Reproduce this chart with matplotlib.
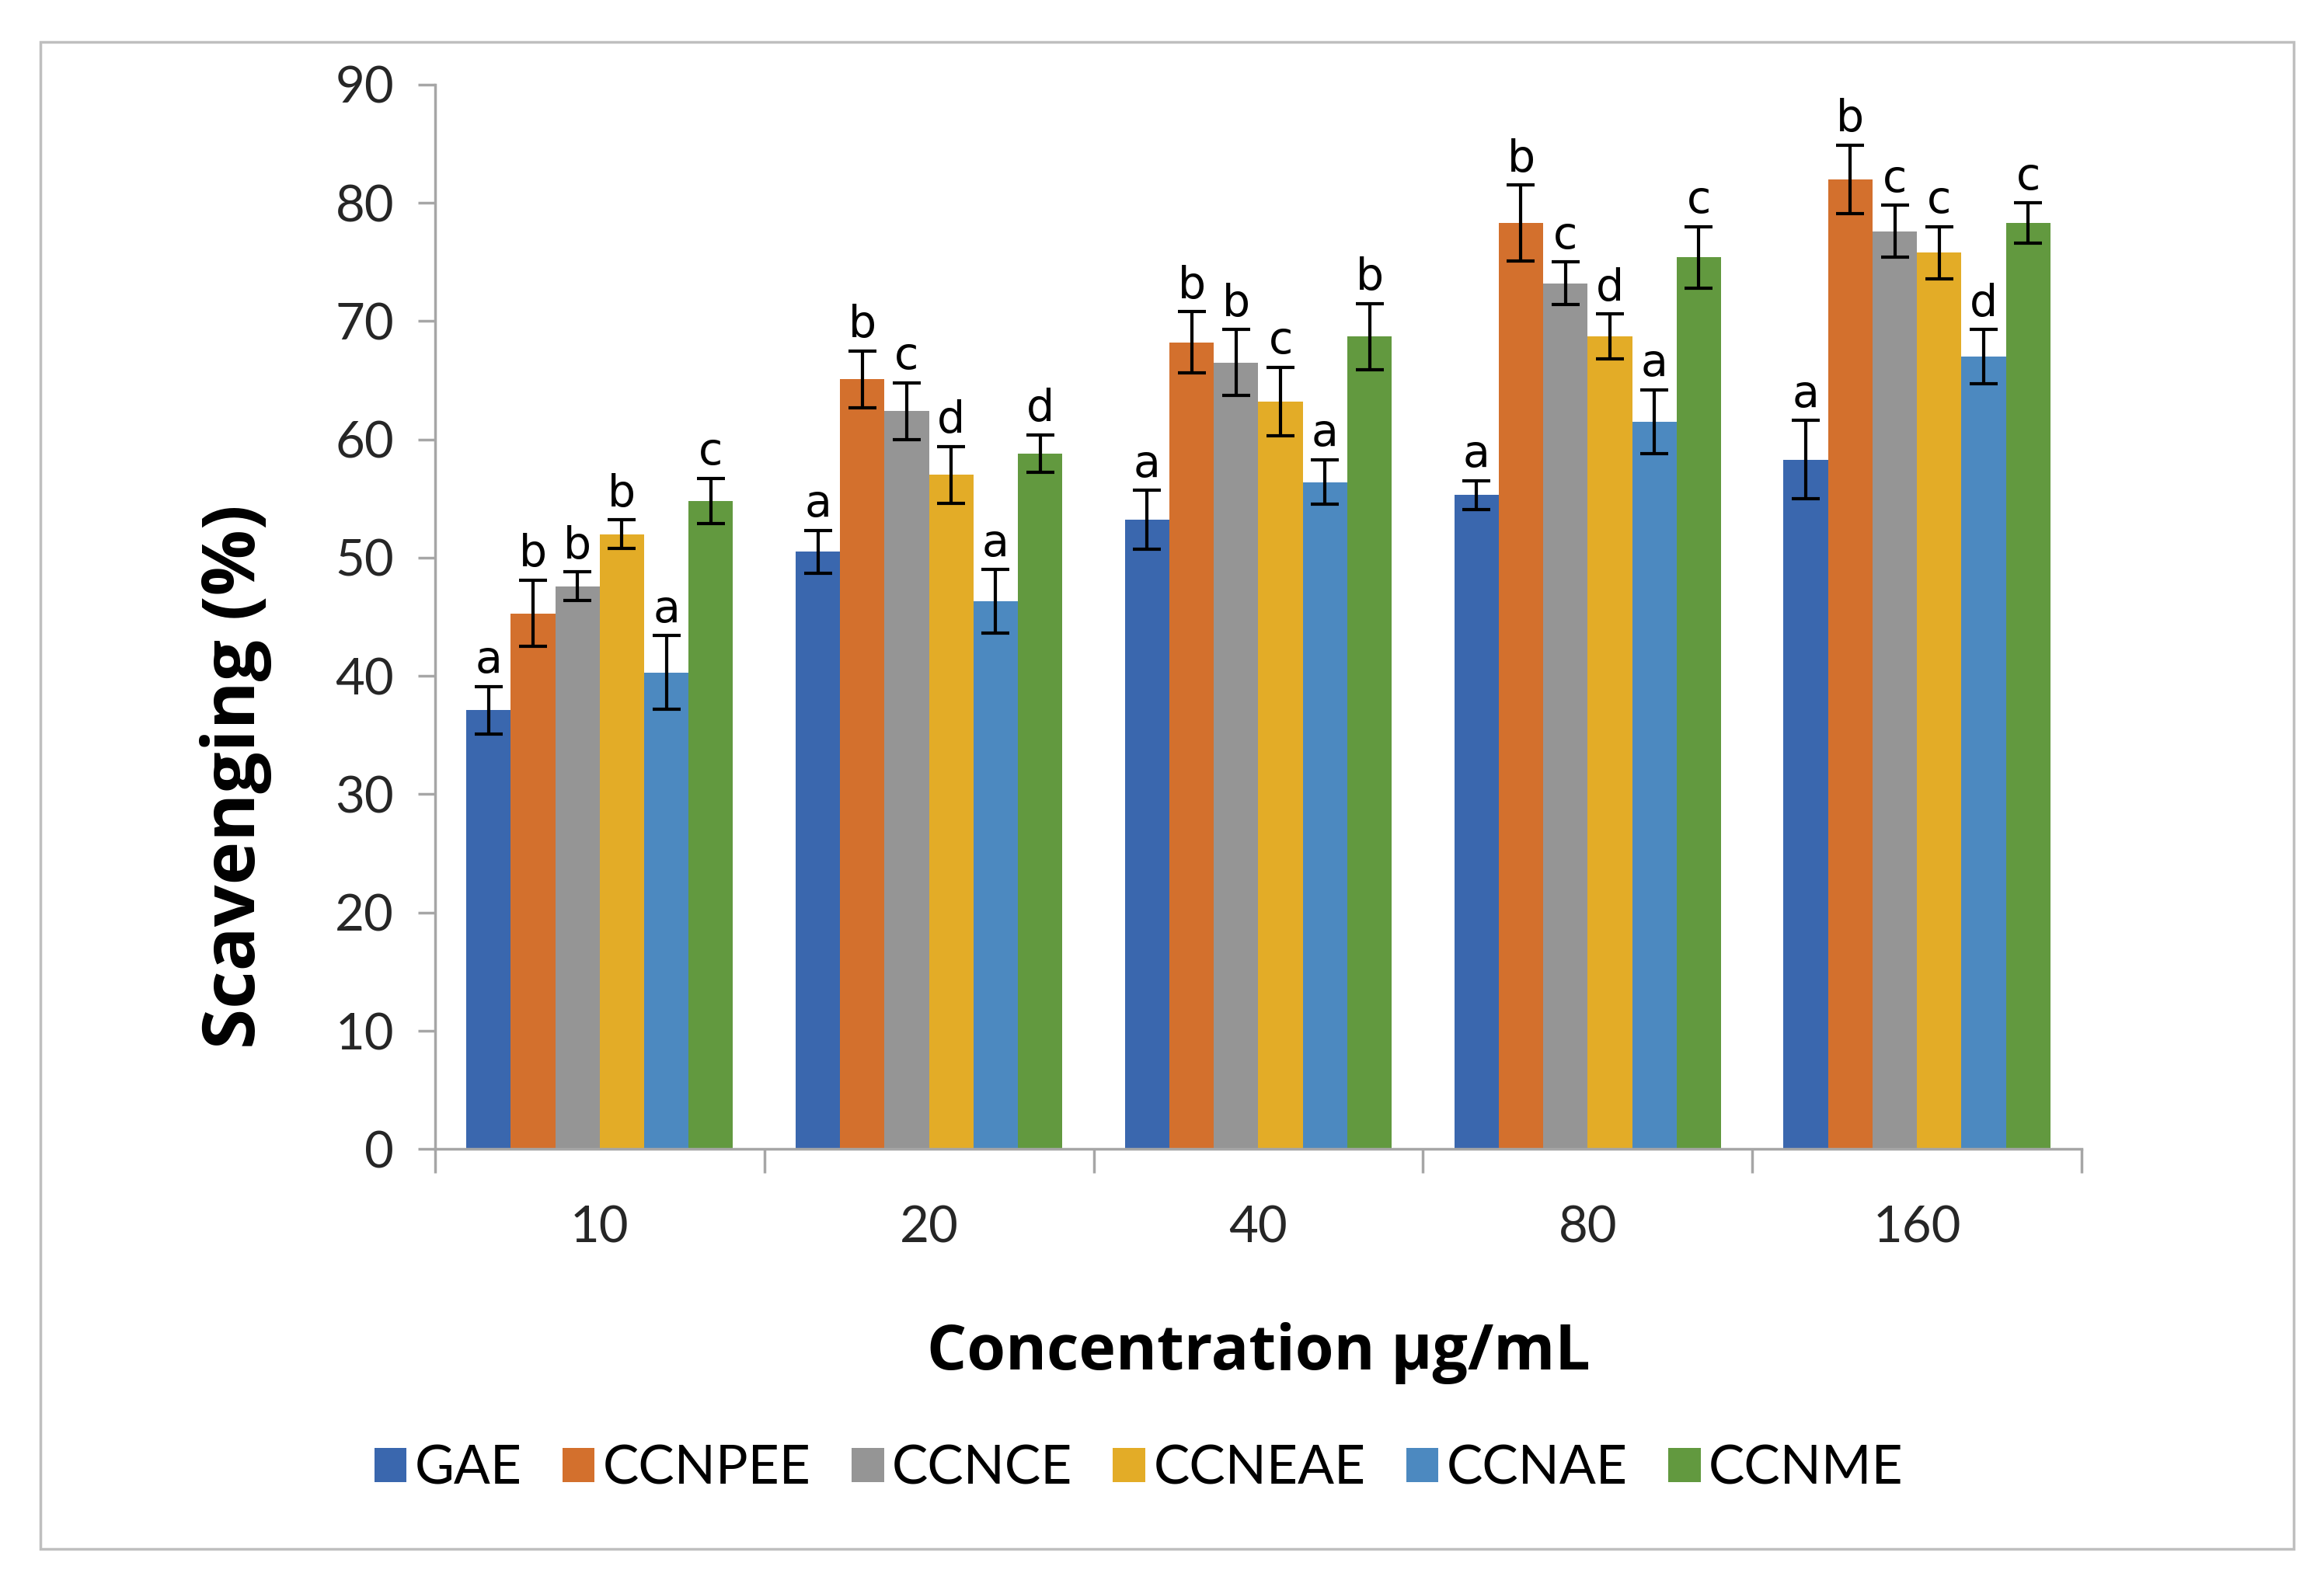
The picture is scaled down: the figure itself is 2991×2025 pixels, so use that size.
import numpy as np
import matplotlib
matplotlib.use("Agg")
import matplotlib.pyplot as plt
from matplotlib.patches import Rectangle

# concentrations (x categories)
concentrations = ["10", "20", "40", "80", "160"]
extracts = ["GAE", "CCNPEE", "CCNCE", "CCNEAE", "CCNAE", "CCNME"]
colors = ["#3A67AE", "#D3702D", "#959595", "#E3AC27", "#4C89C0", "#62993F"]

# mean scavenging (%) per extract, one value per concentration
gae = [37.1, 50.5, 53.2, 55.3, 58.3]
ccnpee = [45.3, 65.1, 68.2, 78.3, 82.0]
ccnce = [47.6, 62.4, 66.5, 73.2, 77.6]
ccneae = [52.0, 57.0, 63.2, 68.7, 75.8]
ccnae = [40.3, 46.3, 56.4, 61.5, 67.0]
ccnme = [54.8, 58.8, 68.7, 75.4, 78.3]

# error bars (+/-)
gae_err = [2.0, 1.8, 2.5, 1.2, 3.3]
ccnpee_err = [2.8, 2.4, 2.6, 3.2, 2.9]
ccnce_err = [1.2, 2.4, 2.8, 1.8, 2.2]
ccneae_err = [1.2, 2.4, 2.9, 1.9, 2.2]
ccnae_err = [3.1, 2.7, 1.9, 2.7, 2.3]
ccnme_err = [1.9, 1.6, 2.8, 2.6, 1.7]

# significance letters
gae_let = ["a", "a", "a", "a", "a"]
ccnpee_let = ["b", "b", "b", "b", "b"]
ccnce_let = ["b", "c", "b", "c", "c"]
ccneae_let = ["b", "d", "c", "d", "c"]
ccnae_let = ["a", "a", "a", "a", "d"]
ccnme_let = ["c", "d", "b", "c", "c"]

means = [gae, ccnpee, ccnce, ccneae, ccnae, ccnme]
errs = [gae_err, ccnpee_err, ccnce_err, ccneae_err, ccnae_err, ccnme_err]
letters = [gae_let, ccnpee_let, ccnce_let, ccneae_let, ccnae_let, ccnme_let]

fig = plt.figure(figsize=(29.91, 20.25), dpi=100)
ax = fig.add_axes([0.1872, 0.2695, 0.7085, 0.6767])

# outer frame around the whole chart
fig.patches.append(Rectangle((52 / 2991, 1 - 1994 / 2025), 2900 / 2991, 1940 / 2025,
                             transform=fig.transFigure, fill=False,
                             edgecolor="#BFBFBF", linewidth=2.5))

x = np.arange(len(concentrations))
width = 0.135
for i, name in enumerate(extracts):
    pos = x + (i - 2.5) * width
    ax.bar(pos, means[i], width, color=colors[i], label=name,
           yerr=errs[i], capsize=13,
           error_kw=dict(ecolor="black", elinewidth=3, capthick=3))
    for j in range(len(x)):
        ax.annotate(letters[i][j], (pos[j], means[i][j] + errs[i][j]),
                    xytext=(0, 4), textcoords="offset points",
                    ha="center", va="bottom", fontsize=41, family="DejaVu Sans")

ax.set_xlim(-0.5, len(x) - 0.5)
ax.set_ylim(0, 90)
ax.set_yticks(range(0, 91, 10))
ax.set_xticks(x)
ax.set_xticklabels(concentrations)
ax.set_xticks(np.arange(-0.5, len(x)), minor=True)

for s in ["top", "right"]:
    ax.spines[s].set_visible(False)
for s in ["left", "bottom"]:
    ax.spines[s].set_color("#A6A6A6")
    ax.spines[s].set_linewidth(2.5)

ax.tick_params(axis="y", length=16, width=2.5, color="#A6A6A6", pad=22,
               labelsize=47)
ax.tick_params(axis="x", which="major", length=0, pad=52, labelsize=47)
ax.tick_params(axis="x", which="minor", length=22, width=2.5, color="#A6A6A6")
for lab in ax.get_xticklabels() + ax.get_yticklabels():
    lab.set_family("Lato")
    lab.set_color("#262626")

ax.set_ylabel("Scavenging (%)", fontsize=68, fontweight="bold",
              family="Open Sans")
ax.yaxis.set_label_coords(-0.099, 0.35)
ax.set_xlabel("Concentration µg/mL", fontsize=58, fontweight="bold",
              family="Open Sans", labelpad=66)

fig.legend(loc="center", bbox_to_anchor=(0.49, 0.066), ncol=6, frameon=False,
           prop={"family": "Lato", "size": 50}, handlelength=0.6,
           handleheight=0.6, handletextpad=0.15, columnspacing=0.75)

fig.savefig("out.png", dpi=100)
